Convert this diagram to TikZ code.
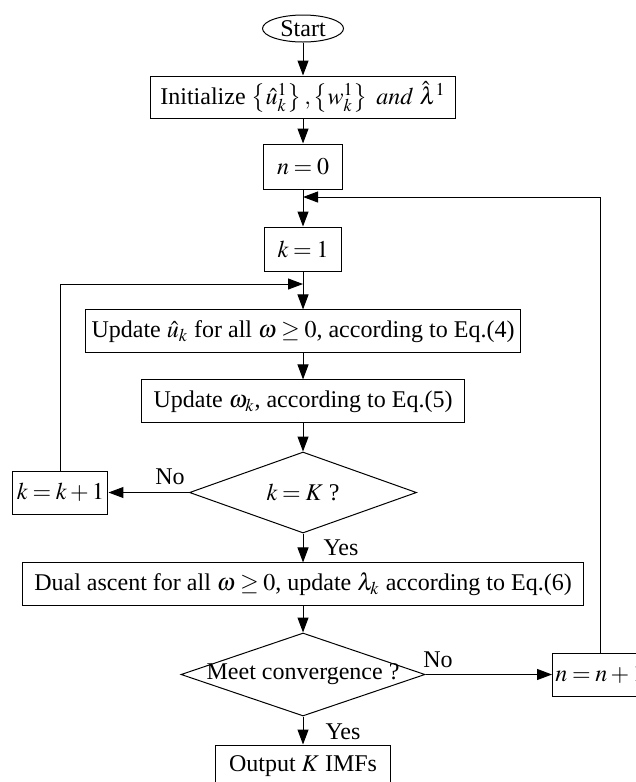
\documentclass[tikz,border=0pt]{standalone}
\usepackage{amsmath}
\usepackage{mathptmx}
\usepackage[no-math]{fontspec}
\setmainfont{Liberation Serif}
\usepackage{tikz}
\usetikzlibrary{arrows.meta,shapes.geometric}
\newcommand{\tightmath}{\thickmuskip=3.5mu plus 2mu\relax\medmuskip=2.5mu plus 1mu\relax}

\begin{document}
\begin{tikzpicture}[>={Triangle[length=7.5pt,width=5.5pt]},
    font=\fontsize{12}{14.4}\selectfont\tightmath,
    every path/.style={line width=0.5pt},
    box/.style={draw,rectangle,inner sep=0pt,minimum height=21.5pt},
    terminal/.style={draw,ellipse,inner sep=0pt,minimum width=40.5pt,minimum height=13.5pt},
    decision/.style={draw,diamond,inner sep=0pt}]
    \useasboundingbox (0,0) rectangle (11.176,13.742);

    \node[terminal] (start) at (5.325,13.241) {Start};
    \node[box,minimum width=152.5pt,minimum height=21pt] (init) at (5.325,12.037)
        {Initialize $\left\{\hat{u}_k^1\right\},\left\{w_k^1\right\}\ and\ \hat{\lambda}^1$};
    \node[box,minimum width=39.5pt,minimum height=22.5pt] (n0) at (5.325,10.816) {$n=0$};
    \node[box,minimum width=38.5pt,minimum height=22pt] (k1) at (5.325,9.366) {$k=1$};

    \node[box,minimum width=217.5pt] (updu) at (5.325,7.917)
        {Update $\hat{u}_k$ for all $\omega\geq 0$, according to Eq.(4)};
    \node[box,minimum width=161.5pt] (updw) at (5.325,6.687)
        {Update $\omega_k$, according to Eq.(5)};

    \node[decision,minimum width=113.5pt,minimum height=40.5pt,
        label=center:{$k=K$ ?}] (kK) at (5.325,5.087) {};
    \node[box,minimum width=47.5pt] (kk1) at (1.063,5.087) {$k=k+1$};

    \node[box,minimum width=280.5pt] (dual) at (5.325,3.471)
        {Dual ascent for all $\omega\geq 0$, update $\lambda_k$ according to Eq.(6)};

    \node[decision,minimum width=122pt,minimum height=41.5pt,
        label=center:{Meet convergence ?}] (meet) at (5.325,1.889) {};
    \node[box,minimum width=47.5pt] (nn1) at (10.544,1.889) {$n=n+1$};
    \node[box,minimum width=87.5pt] (out) at (5.325,0.272) {Output $K$ IMFs};

    \coordinate (fb) at (5.325,10.280);
    \coordinate (lp) at (5.325,8.751);

    \node (no1) at (2.987,5.360) {No};
    \node (yes1) at (5.992,4.112) {Yes};
    \node (no2) at (7.697,2.144) {No};
    \node (yes2) at (6.027,0.879) {Yes};

    \draw[->] (start) -- (init);
    \draw[->] (init) -- (n0);
    \draw[->] (n0) -- (k1);
    \draw[->] (k1) -- (updu);
    \draw[->] (updu) -- (updw);
    \draw[->] (updw) -- (kK);
    \draw[->] (kK) -- (kk1);
    \draw[->] (kk1) |- (lp);
    \draw[->] (kK) -- (dual);
    \draw[->] (dual) -- (meet);
    \draw[->] (meet) -- (nn1);
    \draw[->] (nn1) |- (fb);
    \draw[->] (meet) -- (out);
\end{tikzpicture}
\end{document}
